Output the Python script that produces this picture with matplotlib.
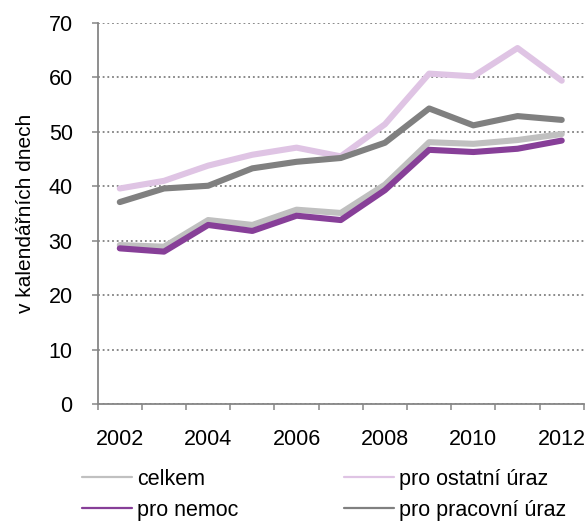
import matplotlib.pyplot as plt
import numpy as np

plt.rcParams['font.family'] = ['Liberation Sans', 'DejaVu Sans']

years = [2002, 2003, 2004, 2005, 2006, 2007, 2008, 2009, 2010, 2011, 2012]
celkem = [29.2, 28.9, 33.8, 32.9, 35.7, 35.1, 40.3, 48.1, 47.8, 48.5, 49.6]
ostatni = [39.6, 41.0, 43.8, 45.8, 47.1, 45.5, 51.4, 60.7, 60.2, 65.4, 59.4]
nemoc = [28.6, 28.0, 32.9, 31.8, 34.6, 33.8, 39.3, 46.7, 46.3, 46.9, 48.4]
pracovni = [37.1, 39.6, 40.1, 43.3, 44.5, 45.2, 48.0, 54.3, 51.2, 52.9, 52.2]

fig = plt.figure(figsize=(5.85, 5.23), dpi=100)
ax = fig.add_axes([0.167, 0.2275, 0.831, 0.7285])

x = np.arange(len(years))
series = [
    (celkem, "celkem", "#c0c0c0"),
    (ostatni, "pro ostatní úraz", "#dfc4e4"),
    (nemoc, "pro nemoc", "#873f98"),
    (pracovni, "pro pracovní úraz", "#808080"),
]
for vals, lab, col in series:
    ax.plot(x, vals, color=col, lw=4.4, solid_capstyle="round",
            solid_joinstyle="round", label=lab)

ax.set_xlim(-0.5, len(years) - 0.5)
ax.set_ylim(0, 70)
ax.set_yticks(range(0, 71, 10))
ax.yaxis.grid(True, color="#808080", linestyle=(0, (1, 1.6)), lw=1.3)
ax.set_axisbelow(True)

ax.set_xticks(x[::2])
ax.set_xticklabels([str(y) for y in years[::2]])
ax.set_xticks(np.arange(-0.5, len(years)), minor=True)
ax.tick_params(axis="x", which="major", length=0, pad=18, labelsize=15.5)
ax.tick_params(axis="x", which="minor", length=4, width=1.1, color="#868686")
ax.tick_params(axis="y", length=4, width=1.1, color="#868686", pad=14,
               labelsize=15.5)

for s in ["top", "right"]:
    ax.spines[s].set_visible(False)
for s in ["left", "bottom"]:
    ax.spines[s].set_color("#868686")
    ax.spines[s].set_linewidth(1.3)

ax.set_ylabel("v kalendářních dnech", fontsize=15)
ax.yaxis.set_label_coords(-0.128, 0.5)

h, l = ax.get_legend_handles_labels()
order = [0, 2, 1, 3]
leg = fig.legend([h[i] for i in order], [l[i] for i in order], ncol=2,
                 loc="upper left", bbox_to_anchor=(0.141, 0.104),
                 frameon=False, fontsize=15.5, handlelength=2.3,
                 handletextpad=0.25, columnspacing=4.9, labelspacing=0.48,
                 borderpad=0, borderaxespad=0)
for line in leg.get_lines():
    line.set_linewidth(1.6)

fig.savefig("out.png", dpi=100)
